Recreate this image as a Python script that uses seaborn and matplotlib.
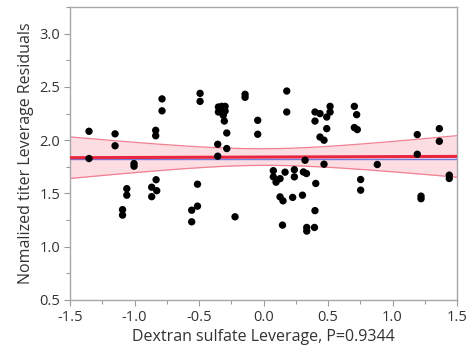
import numpy as np
import pandas as pd
import matplotlib
matplotlib.use("Agg")
import matplotlib.pyplot as plt
from matplotlib.ticker import MultipleLocator
import seaborn as sns

# Leverage values (x) and leverage residuals (y)
x_lev = [-1.353, -1.353, -1.151, -1.151, -1.004, -1.004, -0.836, -0.836, -0.787, -0.787,
         -0.833, -0.492, -0.492, -1.060, -1.060, -1.093, -1.093, -0.867, -0.828, -0.867,
         -0.557, -0.512, -0.512, -0.557, -0.350, -0.324, -0.298, -0.350, -0.324, -0.312,
         -0.298, -0.304, -0.285, -0.355, -0.285, -0.355, -0.143, -0.143, -0.045, -0.045,
         0.180, 0.180, -0.221, 0.076, 0.076, 0.097, 0.128, 0.167, 0.239, 0.239,
         0.309, 0.333, 0.128, 0.151, 0.226, 0.302, 0.147, 0.335, 0.335, 0.395,
         0.399, 0.405, 0.322, 0.399, 0.438, 0.399, 0.438, 0.469, 0.490, 0.516,
         0.516, 0.490, 0.469, 0.704, 0.722, 0.704, 0.727, 0.753, 0.753, 0.882,
         1.192, 1.192, 1.221, 1.221, 1.363, 1.363, 1.440, 1.440]
y_res = [2.084, 1.828, 2.060, 1.948, 1.781, 1.756, 2.093, 2.042, 2.388, 2.276,
         1.629, 2.440, 2.365, 1.545, 1.484, 1.348, 1.297, 1.559, 1.526, 1.470,
         1.343, 1.381, 1.587, 1.234, 2.312, 2.318, 2.318, 2.265, 2.265, 2.234,
         2.274, 2.180, 2.068, 1.962, 1.922, 1.850, 2.431, 2.403, 2.187, 2.056,
         2.462, 2.265, 1.281, 1.714, 1.656, 1.606, 1.639, 1.700, 1.723, 1.656,
         1.702, 1.687, 1.468, 1.431, 1.463, 1.484, 1.203, 1.181, 1.147, 1.181,
         1.339, 1.594, 1.812, 2.265, 2.250, 2.180, 2.030, 2.000, 2.109, 2.318,
         2.265, 2.218, 1.775, 2.318, 2.240, 2.119, 2.100, 1.631, 1.531, 1.772,
         2.053, 1.868, 1.475, 1.451, 2.109, 1.990, 1.672, 1.641]

# Fit line, mean line and confidence band parameters
fit_intercept = 1.842
fit_slope = 0.004
mean_level = 1.826
band_halfwidth_center = 0.078
band_halfwidth_edge = 0.195   # at |x| = 1.5
band_center_x = 0.0

x_ticks = [-1.5, -1.0, -0.5, 0.0, 0.5, 1.0, 1.5]
y_ticks = [0.5, 1.0, 1.5, 2.0, 2.5, 3.0]
x_label = "Dextran sulfate Leverage, P=0.9344"
y_label = "Nomalized titer Leverage Residuals"

df = pd.DataFrame({"x": x_lev, "y": y_res})

sns.set_theme(style="white")
plt.rcParams["font.family"] = ["Open Sans", "DejaVu Sans"]

fig = plt.figure(figsize=(4.67, 3.55), dpi=100)
ax = fig.add_axes([0.150, 0.155, 0.8286, 0.825])

xs = np.linspace(-1.5, 1.5, 200)
b2 = (band_halfwidth_edge**2 - band_halfwidth_center**2) / (1.5 - band_center_x) ** 2
hw = np.sqrt(band_halfwidth_center**2 + b2 * (xs - band_center_x) ** 2)
fit = fit_intercept + fit_slope * xs
ax.fill_between(xs, fit - hw, fit + hw, color="#fcdde2", lw=0, zorder=1)
ax.plot(xs, fit + hw, color="#f07f92", lw=0.9, zorder=2)
ax.plot(xs, fit - hw, color="#f07f92", lw=0.9, zorder=2)
ax.plot([-1.5, 1.5], [mean_level, mean_level], color="#6f7fe0", lw=1.0, zorder=3)
ax.plot(xs, fit, color="#e8263f", lw=2.2, zorder=3)

sns.scatterplot(data=df, x="x", y="y", ax=ax, color="black", s=28,
                edgecolor="none", linewidth=0, zorder=4)

ax.set_xlim(-1.5, 1.5)
ax.set_ylim(0.5, 3.25)
ax.set_xticks(x_ticks)
ax.set_xticklabels([f"{t:.1f}" for t in x_ticks])
ax.set_yticks(y_ticks)
ax.set_yticklabels([f"{t:.1f}" for t in y_ticks])
ax.xaxis.set_minor_locator(MultipleLocator(0.25))
ax.yaxis.set_minor_locator(MultipleLocator(0.25))
ax.tick_params(which="both", direction="out", length=4, width=0.8,
               color="#9a9a9a", labelsize=10.5, labelcolor="#333333",
               bottom=True, left=True, top=False, right=False, pad=3)
ax.tick_params(which="minor", length=3)
for sp in ax.spines.values():
    sp.set_color("#a8a8a8")
    sp.set_linewidth(1.0)
ax.set_xlabel(x_label, fontsize=11.5, color="#333333", labelpad=3)
ax.set_ylabel(y_label, fontsize=11.5, color="#333333", labelpad=4)

fig.savefig("out.png", dpi=100, facecolor="white")
